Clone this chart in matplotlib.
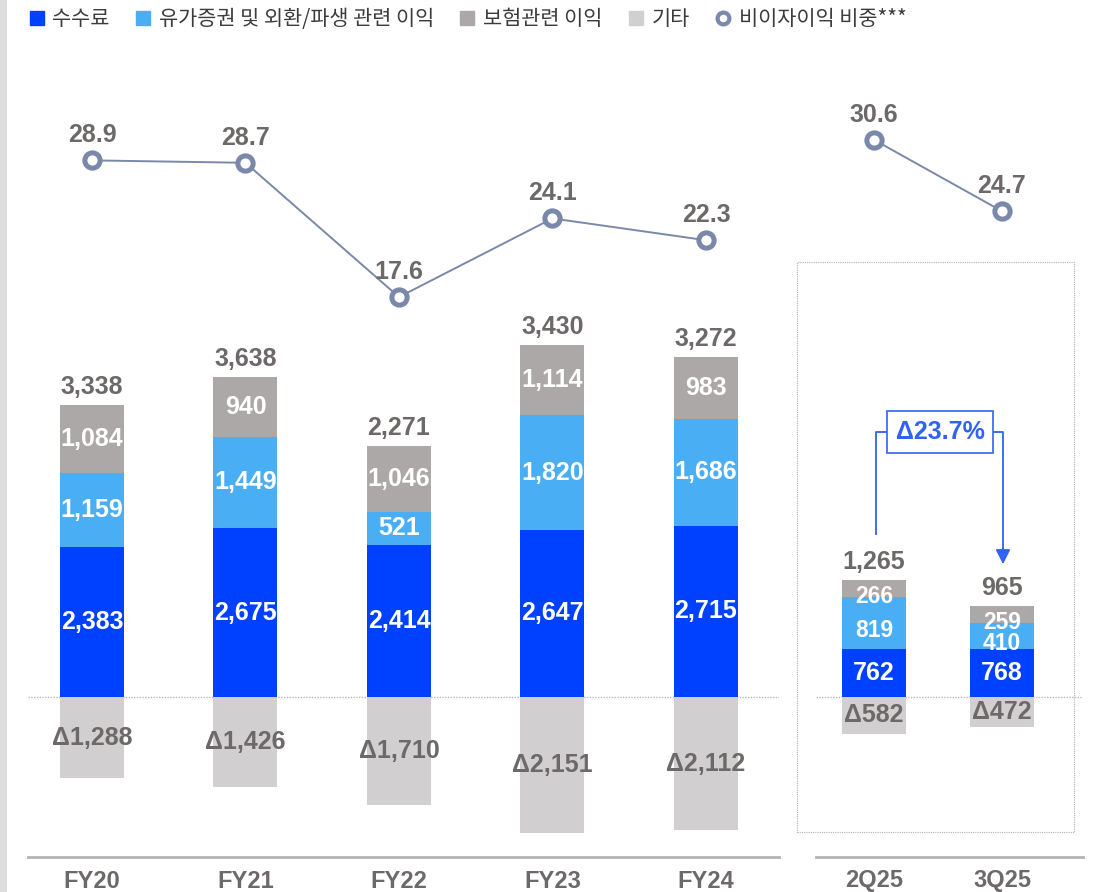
"""비이자이익 구성 추이 (FY20~FY24, 2Q25~3Q25) 누적 막대 + 비중 꺾은선."""
import matplotlib
matplotlib.use("Agg")
import matplotlib.pyplot as plt
from matplotlib.lines import Line2D
from matplotlib.patches import Rectangle

plt.rcParams["font.family"] = ["Liberation Sans", "Noto Sans CJK KR", "DejaVu Sans"]

# ---- data ----
fy_labels = ["FY20", "FY21", "FY22", "FY23", "FY24"]
fy_fee = [2383, 2675, 2414, 2647, 2715]
fy_sec = [1159, 1449, 521, 1820, 1686]
fy_ins = [1084, 940, 1046, 1114, 983]
fy_other = [-1288, -1426, -1710, -2151, -2112]
fy_ratio = [28.9, 28.7, 17.6, 24.1, 22.3]

q_labels = ["2Q25", "3Q25"]
q_fee = [762, 768]
q_sec = [819, 410]
q_ins = [266, 259]
q_other = [-582, -472]
q_ratio = [30.6, 24.7]

legend_names = ["수수료", "유가증권 및 외환/파생 관련 이익", "보험관련 이익", "기타", "비이자이익 비중***"]

# ---- style ----
C_FEE = "#0041ff"
C_SEC = "#4aaef5"
C_INS = "#aca8a7"
C_OTH = "#d1cfd0"
C_LINE = "#7a88aa"
C_TXT = "#6d6969"
C_ARROW = "#2f62f5"
FS = 18

W, H = 1094, 892
BAR_YLIM = (-2536, 10095)
RATIO_YLIM = (-28.7, 37.2)
AX_BOTTOM, AX_TOP = 857, 60


def fig_rect(x0, x1):
    return [x0 / W, 1 - AX_BOTTOM / H, (x1 - x0) / W, (AX_BOTTOM - AX_TOP) / H]


def draw_panel(ax, labels, fee, sec, ins, oth, ratio, width, xlim, seg_dy=0, seg_fs=FS):
    x = list(range(len(labels)))
    b1 = fee
    b2 = [a + b for a, b in zip(fee, sec)]
    ax.bar(x, fee, width, color=C_FEE, zorder=2)
    ax.bar(x, sec, width, bottom=b1, color=C_SEC, zorder=2)
    ax.bar(x, ins, width, bottom=b2, color=C_INS, zorder=2)
    ax.bar(x, oth, width, color=C_OTH, zorder=2)

    kw = dict(ha="center", va="center", fontweight="bold", textcoords="offset points")
    for i in x:
        ax.annotate(f"{fee[i]:,}", (i, fee[i] / 2), xytext=(0, 0), color="white", fontsize=FS, **kw)
        ax.annotate(f"{sec[i]:,}", (i, b1[i] + sec[i] / 2), xytext=(0, seg_dy),
                    color="white", fontsize=seg_fs, **kw)
        ax.annotate(f"{ins[i]:,}", (i, b2[i] + ins[i] / 2), xytext=(0, seg_dy),
                    color="white", fontsize=seg_fs, **kw)
        ax.annotate(f"Δ{abs(oth[i]):,}", (i, oth[i] / 2), xytext=(0, 0), color=C_TXT,
                    fontsize=FS, **kw)
        top = b2[i] + ins[i]
        total = top + oth[i]
        ax.annotate(f"{total:,}", (i, top), xytext=(0, 4.5), textcoords="offset points",
                    ha="center", va="bottom", fontsize=FS, fontweight="bold", color=C_TXT)

    ax.axhline(0, color="#b8b8b8", lw=1, ls=(0, (1, 1)), zorder=1)
    ax.set_xlim(*xlim)
    ax.set_ylim(*BAR_YLIM)
    ax.set_xticks(x)
    ax.set_xticklabels(labels, fontsize=17, fontweight="bold", color=C_TXT)
    ax.tick_params(axis="x", length=0, pad=9)
    ax.set_yticks([])
    for s in ["top", "left", "right"]:
        ax.spines[s].set_visible(False)
    ax.spines["bottom"].set_color("#b3b3b3")
    ax.spines["bottom"].set_linewidth(2)

    tw = ax.twinx()
    tw.plot(x, ratio, color=C_LINE, lw=1.4, marker="o", markersize=11,
            markerfacecolor="white", markeredgecolor=C_LINE, markeredgewidth=3.6, zorder=3)
    for i in x:
        tw.annotate(f"{ratio[i]:.1f}", (i, ratio[i]), xytext=(0, 9.5), textcoords="offset points",
                    ha="center", va="bottom", fontsize=FS, fontweight="bold", color=C_TXT)
    tw.set_ylim(*RATIO_YLIM)
    tw.axis("off")


fig = plt.figure(figsize=(W / 100, H / 100), dpi=100)
fig.add_artist(Rectangle((0, 0), 7 / W, 1, transform=fig.transFigure, color="#dedede", lw=0))

ax1 = fig.add_axes(fig_rect(28, 779))
draw_panel(ax1, fy_labels, fy_fee, fy_sec, fy_ins, fy_other, fy_ratio, 0.417, (-0.417, 4.476))

ax2 = fig.add_axes(fig_rect(816, 1083))
draw_panel(ax2, q_labels, q_fee, q_sec, q_ins, q_other, q_ratio, 0.5, (-0.453, 1.633),
           seg_dy=-5.5, seg_fs=16.5)

# dotted frame around quarterly bars
fig.add_artist(Rectangle((797 / W, 1 - 832 / H), 277 / W, 570 / H, transform=fig.transFigure,
                         fill=False, ec="#b0b0b0", lw=0.8, ls=(0, (1, 1))))

# change callout 2Q25 -> 3Q25
q_tot = [f + s + i + o for f, s, i, o in zip(q_fee, q_sec, q_ins, q_other)]
chg = (q_tot[1] - q_tot[0]) / q_tot[0] * 100
ym = 4200
ax2.plot([0.016, 0.016, 0.09], [2583, ym, ym], color=C_ARROW, lw=1.3, clip_on=False)
ax2.plot([0.94, 1.008, 1.008], [ym, ym, 2300], color=C_ARROW, lw=1.3, clip_on=False)
ax2.annotate("", xy=(1.008, 2060), xytext=(1.008, 2400),
             arrowprops=dict(arrowstyle="-|>", color=C_ARROW, lw=1.3, mutation_scale=22))
ax2.text(0.516, ym, f"Δ{abs(chg):.1f}%", ha="center", va="center", fontsize=FS,
         fontweight="bold", color=C_ARROW,
         bbox=dict(boxstyle="square,pad=0.35", fc="white", ec=C_ARROW, lw=1.2))

# legend
handles = [
    Line2D([], [], ls="none", marker="s", markersize=10, color=C_FEE),
    Line2D([], [], ls="none", marker="s", markersize=10, color=C_SEC),
    Line2D([], [], ls="none", marker="s", markersize=10, color=C_INS),
    Line2D([], [], ls="none", marker="s", markersize=10, color=C_OTH),
    Line2D([], [], ls="none", marker="o", markersize=8.5, markerfacecolor="white",
           markeredgecolor=C_LINE, markeredgewidth=3),
]
fig.legend(handles, legend_names, loc="upper left", bbox_to_anchor=(16 / W, 1.005), ncol=5,
           frameon=False, handlelength=0.8, handletextpad=0.35, columnspacing=1.2,
           prop={"family": ["Noto Sans CJK KR", "DejaVu Sans"], "size": 15},
           labelcolor="#3c3c3c", borderaxespad=0.2)

fig.savefig("out.png", dpi=100)
